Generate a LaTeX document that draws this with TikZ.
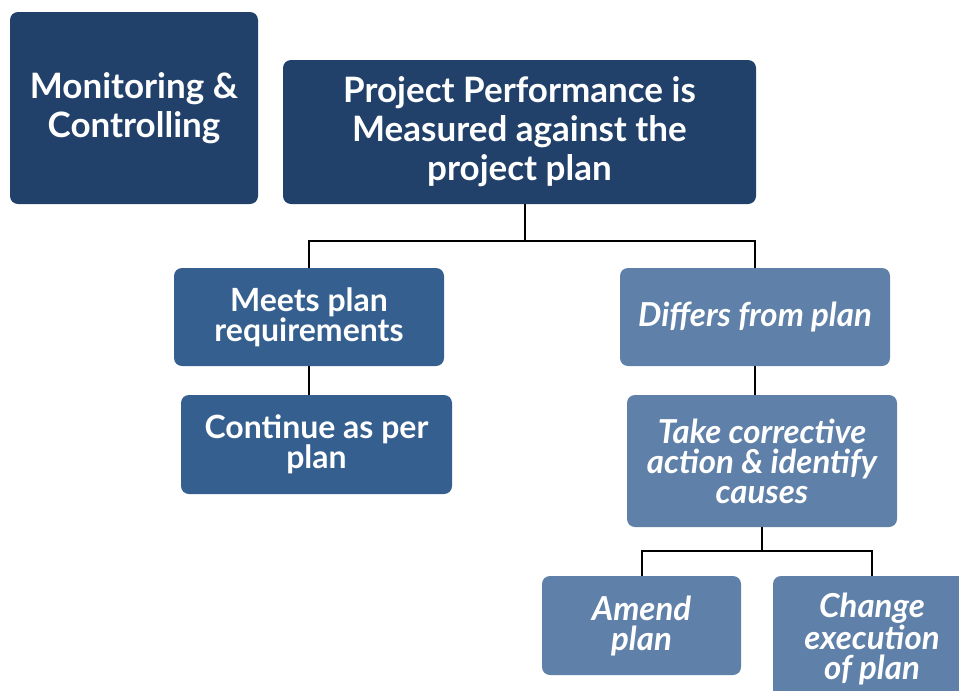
\documentclass[tikz,border=0pt]{standalone}
\usepackage{fontspec}
\setmainfont{Lato}
\usepackage{tikz}
\usetikzlibrary{positioning}
\definecolor{navy}{HTML}{21416A}
\definecolor{midblue}{HTML}{355F8F}
\definecolor{paleblue}{HTML}{5F80A8}
\tikzstyle{topbox}=[rectangle,rounded corners=8pt,fill=navy,text=white,align=center,inner sep=0pt,font=\bfseries\fontsize{35}{39}\selectfont]
\tikzstyle{meetbox}=[rectangle,rounded corners=8pt,fill=midblue,text=white,align=center,inner sep=0pt,font=\bfseries\fontsize{32}{30}\selectfont]
\tikzstyle{diffbox}=[rectangle,rounded corners=8pt,fill=paleblue,text=white,align=center,inner sep=0pt,font=\bfseries\itshape\fontsize{33}{30}\selectfont]
\tikzstyle{conn}=[line width=2pt,black]
\begin{document}
\begin{tikzpicture}[x=1pt,y=-1pt]
\useasboundingbox (0,0) rectangle (959,691);
\clip (0,0) rectangle (959,691);
\node [topbox,minimum width=248pt,minimum height=192pt] (mc) at (134,108) {Monitoring \&\\Controlling};
\node [topbox,minimum width=473pt,minimum height=144pt] (perf) at (519.5,132) {Project Performance is\\Measured against the\\project plan};
\node [meetbox,minimum width=270pt,minimum height=98pt] (meets) at (309,317) {Meets plan\\requirements};
\node [meetbox,minimum width=271pt,minimum height=99pt] (cont) at (316.5,444.5) {Continue as per\\plan};
\node [diffbox,minimum width=270pt,minimum height=98pt] (differs) at (755,317) {Differs from plan};
\node [diffbox,minimum width=270pt,minimum height=132pt] (take) at (762,461) {Take corrective\\action \& identify\\causes};
\node [diffbox,minimum width=199pt,minimum height=99pt] (amend) at (641.5,625.5) {Amend\\plan};
\node [diffbox,minimum width=198pt,minimum height=126pt] (change) at (872,639) {Change\\execution\\of plan};
% tree lines
\draw [conn] ([xshift=5pt]perf.south) -- ++(0,37) coordinate (j1) -| (meets.north);
\draw [conn] (j1) -| (differs.north);
\draw [conn] (meets.south) -- (meets.south |- cont.north);
\draw [conn] (differs.south) -- (differs.south |- take.north);
\draw [conn] (take.south) -- ++(0,24) coordinate (j2) -| (amend.north);
\draw [conn] (j2) -| (change.north);
\end{tikzpicture}
\end{document}
